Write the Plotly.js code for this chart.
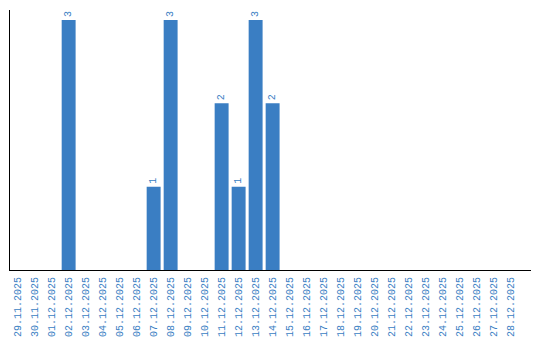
<!DOCTYPE html>
<html>
<head>
<meta charset="utf-8">
<script src="https://cdn.plot.ly/plotly-3.0.1.min.js"></script>
<style>html,body{margin:0;padding:0;background:#fff;}#chart{width:540px;height:340px;}</style>
</head>
<body>
<div id="chart"></div>
<script>
const dates = ["29.11.2025","30.11.2025","01.12.2025","02.12.2025","03.12.2025","04.12.2025","05.12.2025","06.12.2025","07.12.2025","08.12.2025","09.12.2025","10.12.2025","11.12.2025","12.12.2025","13.12.2025","14.12.2025","15.12.2025","16.12.2025","17.12.2025","18.12.2025","19.12.2025","20.12.2025","21.12.2025","22.12.2025","23.12.2025","24.12.2025","25.12.2025","26.12.2025","27.12.2025","28.12.2025"];
const counts = [0,0,0,3,0,0,0,0,1,3,0,0,2,1,3,2,0,0,0,0,0,0,0,0,0,0,0,0,0,0];
const labels = counts.map(v => v > 0 ? String(v) : "");

const blue = "#3a7ec3";
const trace = {
  type: "bar",
  x: dates,
  y: counts,
  text: labels,
  textposition: "outside",
  textangle: -90,
  cliponaxis: false,
  textfont: {family: "Liberation Mono", size: 10, color: blue},
  marker: {color: blue},
  hoverinfo: "none"
};
const layout = {
  width: 540, height: 340,
  margin: {l: 10, r: 9, t: 10, b: 70},
  paper_bgcolor: "#fff", plot_bgcolor: "#fff",
  bargap: 0.18,
  showlegend: false,
  font: {family: "Liberation Mono", size: 10, color: blue},
  xaxis: {
    type: "category",
    range: [-0.45, 30.2],
    tickangle: -90,
    ticklabelstandoff: 2,
    showgrid: false,
    showline: true, linecolor: "#000", linewidth: 1,
    ticks: "", zeroline: false,
    tickfont: {family: "Liberation Mono", size: 10, color: blue}
  },
  yaxis: {
    range: [0, 3.12],
    showgrid: false, zeroline: false,
    showline: true, linecolor: "#000", linewidth: 1,
    showticklabels: false, ticks: ""
  }
};
Plotly.newPlot("chart", [trace], layout, {staticPlot: true, displayModeBar: false});
</script>
</body>
</html>
